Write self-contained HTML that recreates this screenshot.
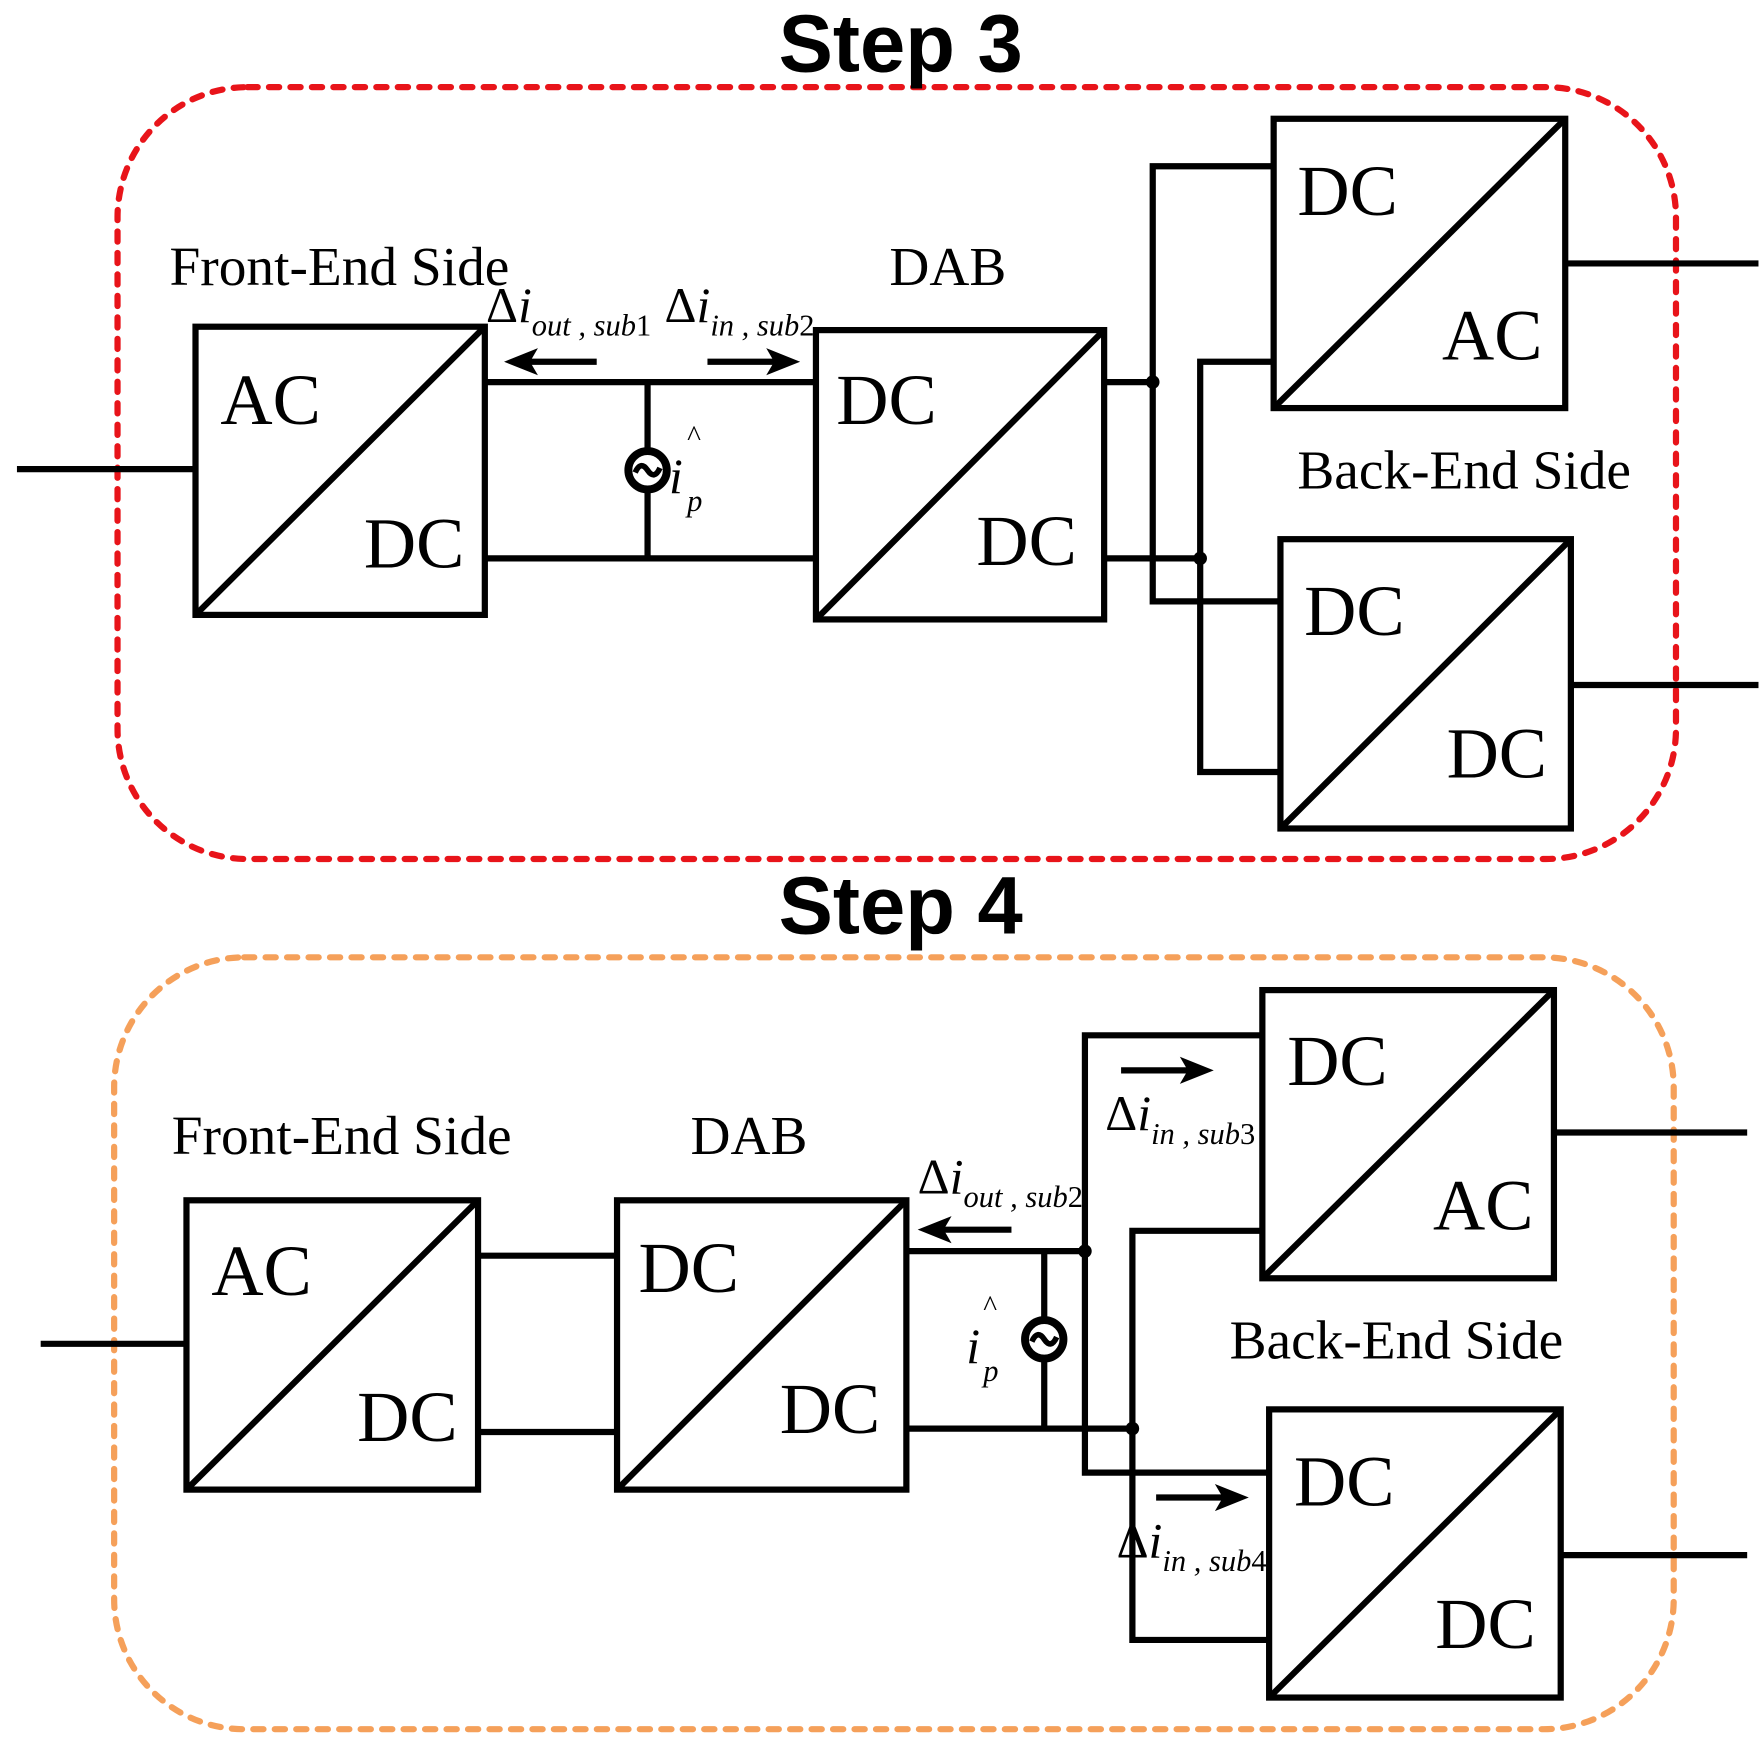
<!DOCTYPE html>
<html><head><meta charset="utf-8"><style>
html,body{margin:0;padding:0;background:#fff;}
svg{display:block;}
text{font-family:"Liberation Serif",serif;fill:#000;}
.t{font-family:"Liberation Sans",sans-serif;font-weight:bold;font-size:72px;}
.big{font-size:64px;}
.lab{font-size:49px;}
.d{font-size:44px;}
.i{font-style:italic;}
.s{font-style:italic;font-size:27px;}
</style></head><body>
<svg width="1763" height="1744" viewBox="0 0 1560 1543" xmlns="http://www.w3.org/2000/svg">
<g fill="none" stroke-linecap="round">
<rect x="104" y="77" width="1379" height="683" rx="115" stroke="#e8141a" stroke-width="5.5" stroke-dasharray="9 10"/>
<rect x="101" y="847" width="1380" height="683" rx="115" stroke="#f5a05a" stroke-width="5.5" stroke-dasharray="9 10"/>
</g>
<text class="t" x="797" y="63" text-anchor="middle">Step 3</text>
<text class="t" x="797" y="826" text-anchor="middle">Step 4</text>

<g stroke="#000" stroke-width="5.5" fill="none" stroke-linecap="butt">
<line x1="15" y1="415" x2="173" y2="415"/>
<rect x="173" y="289" width="256" height="255"/>
<line x1="173" y1="544" x2="429" y2="289"/>
<line x1="429" y1="338" x2="722" y2="338"/>
<line x1="429" y1="494" x2="722" y2="494"/>
<line x1="573" y1="338" x2="573" y2="397"/>
<line x1="573" y1="435" x2="573" y2="494"/>
<rect x="722" y="292" width="255" height="256"/>
<line x1="722" y1="548" x2="977" y2="292"/>
<line x1="977" y1="338" x2="1020" y2="338"/>
<line x1="977" y1="494" x2="1062" y2="494"/>
<polyline points="1127,147 1020,147 1020,532 1133,532"/>
<polyline points="1127,320 1062,320 1062,683 1133,683"/>
<rect x="1127" y="105" width="258" height="256"/>
<line x1="1127" y1="361" x2="1385" y2="105"/>
<line x1="1385" y1="233" x2="1556" y2="233"/>
<rect x="1133" y="477" width="257" height="256"/>
<line x1="1133" y1="733" x2="1390" y2="477"/>
<line x1="1390" y1="606" x2="1556" y2="606"/>
<line x1="455" y1="320" x2="528" y2="320"/>
<line x1="626" y1="320" x2="695" y2="320"/>
<line x1="36" y1="1189" x2="165" y2="1189"/>
<rect x="165" y="1062" width="258" height="256"/>
<line x1="165" y1="1318" x2="423" y2="1062"/>
<line x1="423" y1="1111" x2="546" y2="1111"/>
<line x1="423" y1="1267" x2="546" y2="1267"/>
<rect x="546" y="1062" width="256" height="256"/>
<line x1="546" y1="1318" x2="802" y2="1062"/>
<line x1="802" y1="1107" x2="960" y2="1107"/>
<line x1="802" y1="1264" x2="1002" y2="1264"/>
<line x1="924" y1="1107" x2="924" y2="1166"/>
<line x1="924" y1="1204" x2="924" y2="1264"/>
<polyline points="1117,916 960,916 960,1303 1123,1303"/>
<polyline points="1117,1089 1002,1089 1002,1451 1123,1451"/>
<rect x="1117" y="876" width="258" height="255"/>
<line x1="1117" y1="1131" x2="1375" y2="876"/>
<line x1="1375" y1="1002" x2="1546" y2="1002"/>
<rect x="1123" y="1247" width="258" height="255"/>
<line x1="1123" y1="1502" x2="1381" y2="1247"/>
<line x1="1381" y1="1376" x2="1546" y2="1376"/>
<line x1="825" y1="1088" x2="895" y2="1088"/>
<line x1="992" y1="947" x2="1062" y2="947"/>
<line x1="1023" y1="1325" x2="1093" y2="1325"/>
<circle cx="573" cy="416" r="17" stroke-width="7"/>
<path d="M562,418 q5,-11 11,-2 t11,-2" stroke-width="5"/>
<circle cx="924" cy="1185" r="17" stroke-width="7"/>
<path d="M913,1187 q5,-11 11,-2 t11,-2" stroke-width="5"/>
</g>
<g fill="#000">
<polygon points="446,320 476,308 469,320 476,332"/>
<polygon points="708,320 678,308 685,320 678,332"/>
<polygon points="812,1088 842,1076 835,1088 842,1100"/>
<polygon points="1074,947 1044,935 1051,947 1044,959"/>
<polygon points="1105,1325 1075,1313 1082,1325 1075,1337"/>
<circle cx="1020" cy="338" r="6"/>
<circle cx="1062" cy="494" r="6"/>
<circle cx="960" cy="1107" r="6"/>
<circle cx="1002" cy="1264" r="6"/>
</g>

<text class="big" x="195" y="375">AC</text>
<text class="big" x="322" y="502">DC</text>
<text class="big" x="740" y="375">DC</text>
<text class="big" x="864" y="500">DC</text>
<text class="big" x="1148" y="190">DC</text>
<text class="big" x="1276" y="318">AC</text>
<text class="big" x="1154" y="562">DC</text>
<text class="big" x="1280" y="688">DC</text>
<text class="lab" x="150" y="252">Front-End Side</text>
<text class="lab" x="787" y="252">DAB</text>
<text class="lab" x="1148" y="432">Back-End Side</text>
<text class="d" x="430" y="285">Δ<tspan class="i">i</tspan><tspan class="s" dy="12">out</tspan><tspan class="s"> , </tspan><tspan class="s">sub</tspan><tspan font-size="27">1</tspan></text>
<text class="d" x="588" y="285">Δ<tspan class="i">i</tspan><tspan class="s" dy="12">in</tspan><tspan class="s"> , </tspan><tspan class="s">sub</tspan><tspan font-size="27">2</tspan></text>
<text class="d i" font-size="48" x="592" y="436">i</text>
<text font-size="26" x="608" y="394">^</text>
<text class="s" font-size="36" x="608" y="452">p</text>

<text class="big" x="187" y="1146">AC</text>
<text class="big" x="316" y="1275">DC</text>
<text class="big" x="565" y="1143">DC</text>
<text class="big" x="690" y="1268">DC</text>
<text class="big" x="1139" y="960">DC</text>
<text class="big" x="1268" y="1088">AC</text>
<text class="big" x="1145" y="1332">DC</text>
<text class="big" x="1270" y="1458">DC</text>
<text class="lab" x="152" y="1021">Front-End Side</text>
<text class="lab" x="611" y="1021">DAB</text>
<text class="lab" x="1088" y="1202">Back-End Side</text>
<text class="d" x="812" y="1056">Δ<tspan class="i">i</tspan><tspan class="s" dy="12">out</tspan><tspan class="s"> , </tspan><tspan class="s">sub</tspan><tspan font-size="27">2</tspan></text>
<text class="d" x="978" y="1000">Δ<tspan class="i">i</tspan><tspan class="s" dy="12">in</tspan><tspan class="s"> , </tspan><tspan class="s">sub</tspan><tspan font-size="27">3</tspan></text>
<text class="d" x="988" y="1378">Δ<tspan class="i">i</tspan><tspan class="s" dy="12">in</tspan><tspan class="s"> , </tspan><tspan class="s">sub</tspan><tspan font-size="27">4</tspan></text>
<text class="d i" font-size="48" x="855" y="1206">i</text>
<text font-size="26" x="870" y="1164">^</text>
<text class="s" font-size="36" x="870" y="1222">p</text>
</svg>
</body></html>
